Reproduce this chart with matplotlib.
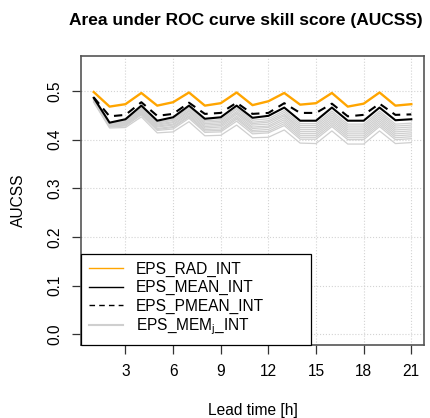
import numpy as np
import matplotlib.pyplot as plt

plt.rcParams["font.family"] = ["Liberation Sans", "DejaVu Sans"]

lead_time = list(range(1, 22))

eps_rad = [0.498, 0.468, 0.473, 0.496, 0.470, 0.477, 0.497, 0.470, 0.475, 0.497, 0.471,
           0.479, 0.496, 0.472, 0.475, 0.496, 0.468, 0.474, 0.497, 0.470, 0.473]
eps_mean = [0.486, 0.435, 0.442, 0.470, 0.439, 0.446, 0.470, 0.443, 0.446, 0.470, 0.445,
            0.449, 0.466, 0.439, 0.439, 0.466, 0.439, 0.439, 0.466, 0.440, 0.442]
eps_pmean = [0.487, 0.448, 0.451, 0.477, 0.449, 0.453, 0.476, 0.453, 0.455, 0.476, 0.453,
             0.455, 0.475, 0.455, 0.455, 0.474, 0.448, 0.451, 0.474, 0.451, 0.452]

# ensemble members (read roughly off the grey bundle)
mem_01 = [0.485, 0.434, 0.440, 0.467, 0.436, 0.442, 0.466, 0.439, 0.441, 0.465, 0.440,
          0.443, 0.460, 0.433, 0.433, 0.459, 0.432, 0.432, 0.459, 0.432, 0.434]
mem_02 = [0.484, 0.433, 0.439, 0.465, 0.434, 0.440, 0.463, 0.436, 0.438, 0.462, 0.436,
          0.439, 0.456, 0.429, 0.429, 0.455, 0.428, 0.428, 0.455, 0.428, 0.430]
mem_03 = [0.483, 0.432, 0.437, 0.463, 0.432, 0.437, 0.460, 0.433, 0.435, 0.458, 0.433,
          0.436, 0.452, 0.425, 0.425, 0.451, 0.424, 0.424, 0.451, 0.424, 0.426]
mem_04 = [0.482, 0.431, 0.436, 0.461, 0.430, 0.435, 0.458, 0.430, 0.432, 0.455, 0.430,
          0.432, 0.449, 0.421, 0.421, 0.447, 0.420, 0.420, 0.447, 0.420, 0.422]
mem_05 = [0.482, 0.430, 0.434, 0.459, 0.428, 0.432, 0.455, 0.427, 0.429, 0.452, 0.426,
          0.428, 0.445, 0.417, 0.417, 0.443, 0.416, 0.416, 0.443, 0.416, 0.418]
mem_06 = [0.481, 0.429, 0.433, 0.457, 0.426, 0.430, 0.452, 0.424, 0.426, 0.448, 0.423,
          0.425, 0.441, 0.413, 0.413, 0.439, 0.412, 0.412, 0.439, 0.412, 0.414]
mem_07 = [0.480, 0.428, 0.431, 0.455, 0.423, 0.427, 0.449, 0.421, 0.422, 0.445, 0.419,
          0.421, 0.437, 0.409, 0.409, 0.435, 0.408, 0.408, 0.435, 0.408, 0.410]
mem_08 = [0.479, 0.427, 0.430, 0.453, 0.421, 0.425, 0.447, 0.418, 0.419, 0.442, 0.416,
          0.417, 0.433, 0.405, 0.405, 0.431, 0.404, 0.404, 0.431, 0.404, 0.406]
mem_09 = [0.478, 0.426, 0.428, 0.451, 0.419, 0.422, 0.444, 0.415, 0.416, 0.438, 0.412,
          0.414, 0.429, 0.401, 0.401, 0.427, 0.400, 0.400, 0.427, 0.400, 0.402]
mem_10 = [0.477, 0.424, 0.425, 0.447, 0.414, 0.416, 0.437, 0.408, 0.409, 0.430, 0.404,
          0.405, 0.420, 0.393, 0.392, 0.418, 0.391, 0.391, 0.418, 0.392, 0.394]
members = [mem_01, mem_02, mem_03, mem_04, mem_05, mem_06, mem_07, mem_08, mem_09, mem_10]

x_ticks = [3, 6, 9, 12, 15, 18, 21]
y_ticks = [0.0, 0.1, 0.2, 0.3, 0.4, 0.5]

fs = 11.2

fig = plt.figure(figsize=(4.3, 4.18), dpi=100)
ax = fig.add_axes([81 / 430, 73 / 418, 343 / 430, 289 / 418])

for i, m in enumerate(members):
    ax.plot(lead_time, m, color="#cfcfcf", lw=0.9,
            label="EPS_MEM$_\\mathregular{j}$_INT" if i == 0 else None, zorder=2)
ax.plot(lead_time, eps_mean, color="black", lw=1.5, label="EPS_MEAN_INT", zorder=3)
ax.plot(lead_time, eps_pmean, color="black", lw=1.5, ls=(0, (4, 3)),
        label="EPS_PMEAN_INT", zorder=3)
ax.plot(lead_time, eps_rad, color="orange", lw=1.7, label="EPS_RAD_INT", zorder=4)

ax.set_xlim(0.2, 21.8)
ax.set_ylim(-0.022, 0.572)
ax.set_xticks(x_ticks)
ax.set_yticks(y_ticks)
ax.set_yticklabels([f"{v:.1f}" for v in y_ticks], rotation=90, va="center")
ax.tick_params(axis="both", length=6.5, width=0.9, labelsize=fs, color="#333333")
ax.tick_params(axis="x", pad=7.5)
ax.tick_params(axis="y", pad=7)
ax.grid(True, color="lightgray", ls=":", lw=0.8)
for s in ax.spines.values():
    s.set_color("#555555")
    s.set_linewidth(1.2)

ax.set_xlabel("Lead time [h]", fontsize=fs, labelpad=17)
ax.set_ylabel("AUCSS", fontsize=fs, labelpad=15)
fig.text(0.5725, 0.952, "Area under ROC curve skill score (AUCSS)",
         fontsize=12.5, fontweight="bold", ha="center", va="center")

h, l = ax.get_legend_handles_labels()
order = [3, 1, 2, 0]
leg = ax.legend([h[i] for i in order], [l[i] for i in order], loc="lower left",
                bbox_to_anchor=(0, 0, 0.67, 0.3), mode="expand", borderaxespad=0,
                fancybox=False, edgecolor="black", framealpha=1, fontsize=fs,
                handlelength=2.2, handletextpad=0.85, borderpad=0.5, labelspacing=0.2)
leg.get_frame().set_linewidth(0.9)
leg.set_zorder(5)
for ln in leg.get_lines():
    ln.set_linewidth(1.0)
leg.get_lines()[3].set_linewidth(1.5)

fig.savefig("out.png", dpi=100)
